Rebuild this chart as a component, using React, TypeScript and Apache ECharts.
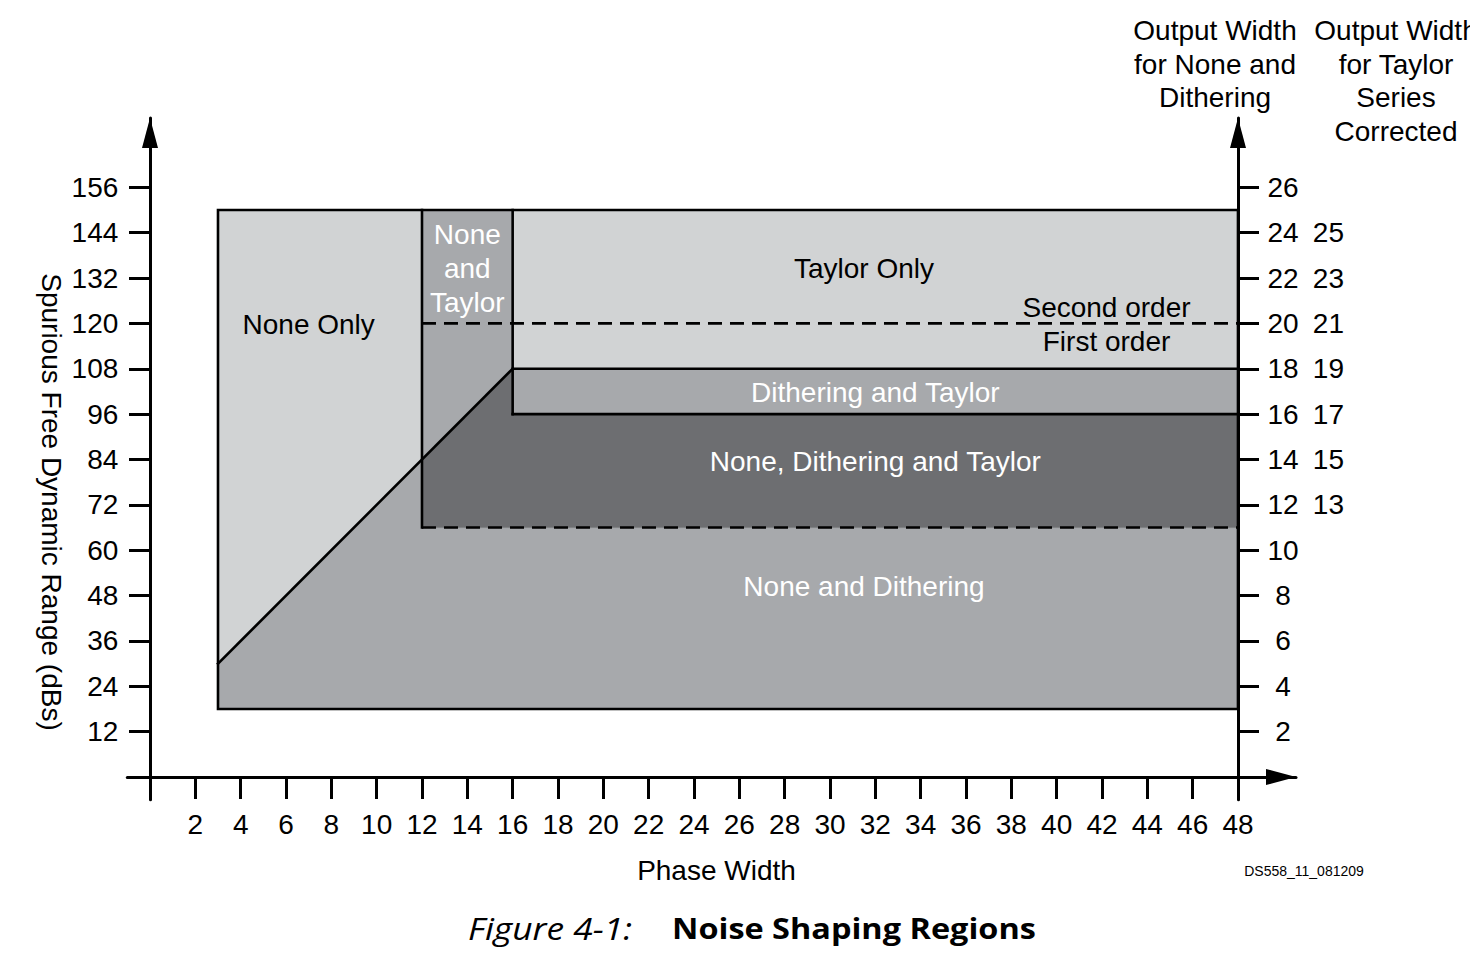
import React, { useEffect, useRef } from "react";
import * as echarts from "echarts";

// ---------- data ----------
const phaseWidthTicks = [2, 4, 6, 8, 10, 12, 14, 16, 18, 20, 22, 24, 26, 28, 30, 32, 34, 36, 38, 40, 42, 44, 46, 48];
const sfdrTicks = [12, 24, 36, 48, 60, 72, 84, 96, 108, 120, 132, 144, 156];
const outputWidthTicks = [2, 4, 6, 8, 10, 12, 14, 16, 18, 20, 22, 24, 26];
const taylorTickPositions = [12, 14, 16, 18, 20, 22, 24];
const taylorOutputWidths = [13, 15, 17, 19, 21, 23, 25];

const regionNames = [
  "None and Dithering",
  "None Only",
  "None and Taylor",
  "Taylor Only",
  "Dithering and Taylor",
  "None, Dithering and Taylor",
];
const noneAndDithering = [[3, 18], [48, 18], [48, 66], [12, 66], [12, 84], [3, 30]];
const noneOnly = [[3, 30], [3, 150], [12, 150], [12, 84]];
const noneAndTaylor = [[12, 84], [12, 150], [16, 150], [16, 108]];
const taylorOnly = [[16, 108], [16, 150], [48, 150], [48, 108]];
const ditheringAndTaylor = [[16, 96], [16, 108], [48, 108], [48, 96]];
const noneDitheringTaylor = [[12, 66], [12, 84], [16, 108], [16, 96], [48, 96], [48, 66]];
const regionPolygons = [noneAndDithering, noneOnly, noneAndTaylor, taylorOnly, ditheringAndTaylor, noneDitheringTaylor];

const solidBoundaries = [
  [[3, 18], [48, 18], [48, 150], [3, 150], [3, 18]],
  [[12, 66], [12, 150]],
  [[16, 96], [16, 150]],
  [[16, 108], [48, 108]],
  [[16, 96], [48, 96]],
  [[3, 30], [16, 108]],
];
const dashedBoundaries = [
  [[12, 120], [48, 120]],
  [[12, 66], [48, 66]],
];

const labelTexts = [
  "None Only",
  "None\nand\nTaylor",
  "Taylor Only",
  "Second order",
  "First order",
  "Dithering and Taylor",
  "None, Dithering and Taylor",
  "None and Dithering",
];
const labelAnchors = [
  [7, 119.6],
  [14, 134.4],
  [31.5, 134.4],
  [42.2, 124.2],
  [42.2, 115.2],
  [32, 101.6],
  [32, 83.6],
  [31.5, 50.5],
];

// ---------- styles ----------
const FONT = "'Liberation Sans', Arial, Helvetica, sans-serif";
const CAPTION_FONT = "'Open Sans', 'Noto Sans', sans-serif";
const LIGHT = "#d1d3d4";
const MEDIUM = "#a7a9ac";
const DARK = "#6d6e71";
const regionFills = [MEDIUM, LIGHT, MEDIUM, LIGHT, MEDIUM, DARK];
const labelColors = ["#000", "#fff", "#000", "#000", "#000", "#fff", "#fff", "#fff"];

export default function App() {
  const ref = useRef<HTMLDivElement>(null);

  useEffect(() => {
    if (!ref.current) return;
    const chart = echarts.init(ref.current, null, { renderer: "svg" });

    const axisLineStyle = { color: "#000", width: 3 };
    const sfdrMax = 174.34;
    const arrowSym = ["none", "triangle"];
    const arrowSize = [16, 30];

    const option: any = {
      animation: false,
      backgroundColor: "#fff",
      grid: [
        { left: 127.33, right: 174, top: 118, bottom: 163.3, outerBoundsMode: "none", containLabel: false },
        { left: 150, right: 232, top: 118, bottom: 163.3, outerBoundsMode: "none", containLabel: false },
      ],
      xAxis: [
        {
          gridIndex: 0,
          type: "value",
          min: -1,
          max: 50.56,
          position: "bottom",
          axisLine: { show: true, onZero: true, symbol: arrowSym, symbolSize: arrowSize, symbolOffset: [0, -15], lineStyle: axisLineStyle },
          axisTick: { show: true, customValues: phaseWidthTicks, length: 22, inside: false, lineStyle: axisLineStyle },
          axisLabel: {
            show: true,
            customValues: phaseWidthTicks,
            margin: 11,
            fontSize: 28,
            fontFamily: FONT,
            color: "#000",
          },
          splitLine: { show: false },
        },
        {
          gridIndex: 1,
          type: "value",
          min: 0,
          max: 48,
          show: false,
        },
      ],
      yAxis: [
        {
          gridIndex: 0,
          type: "value",
          min: -6,
          max: sfdrMax,
          position: "left",
          axisLine: { show: true, onZero: true, symbol: arrowSym, symbolSize: arrowSize, symbolOffset: [0, -15], lineStyle: axisLineStyle },
          axisTick: { show: true, customValues: sfdrTicks, length: 21, inside: false, lineStyle: axisLineStyle },
          axisLabel: {
            show: true,
            customValues: sfdrTicks,
            margin: 9,
            fontSize: 28,
            fontFamily: FONT,
            color: "#000",
          },
          splitLine: { show: false },
        },
        {
          gridIndex: 1,
          type: "value",
          min: -1,
          max: sfdrMax / 6,
          position: "right",
          axisLine: { show: true, onZero: false, symbol: arrowSym, symbolSize: arrowSize, symbolOffset: [0, -15], lineStyle: axisLineStyle },
          axisTick: { show: true, customValues: outputWidthTicks, length: 21, inside: false, lineStyle: axisLineStyle },
          axisLabel: {
            show: true,
            customValues: outputWidthTicks,
            margin: 30,
            fontSize: 28,
            fontFamily: FONT,
            color: "#000",
            formatter: (v: number) => {
              const idx = taylorTickPositions.indexOf(v);
              return idx >= 0 ? `{a|${v}}{b|${taylorOutputWidths[idx]}}` : `{a|${v}}`;
            },
            rich: {
              a: { width: 30, align: "center", fontSize: 28, fontFamily: FONT, color: "#000" },
              b: { width: 46, align: "right", fontSize: 28, fontFamily: FONT, color: "#000" },
            },
          },
          splitLine: { show: false },
        },
      ],
      series: [
        {
          type: "custom",
          name: "regions",
          xAxisIndex: 0,
          yAxisIndex: 0,
          z: 2,
          silent: true,
          clip: false,
          data: regionPolygons.map((p, i) => ({ value: p[0], name: regionNames[i] })),
          renderItem: (params: any, api: any) => {
            const poly = regionPolygons[params.dataIndex];
            return {
              type: "polygon",
              shape: { points: poly.map((pt) => api.coord(pt)) },
              style: { fill: regionFills[params.dataIndex], stroke: regionFills[params.dataIndex], lineWidth: 0.5 },
            };
          },
        },
        ...solidBoundaries.map((line, i) => ({
          type: "line",
          name: "solid" + i,
          xAxisIndex: 0,
          yAxisIndex: 0,
          z: 3,
          silent: true,
          symbol: "none",
          data: line,
          lineStyle: { color: "#000", width: 2.6, type: "solid", join: "miter", cap: "square" },
        })),
        ...dashedBoundaries.map((line, i) => ({
          type: "line",
          name: "dashed" + i,
          xAxisIndex: 0,
          yAxisIndex: 0,
          z: 3,
          silent: true,
          symbol: "none",
          data: line,
          lineStyle: { color: "#000", width: 2.6, type: [14, 8] },
        })),
        {
          type: "custom",
          name: "labels",
          xAxisIndex: 0,
          yAxisIndex: 0,
          z: 5,
          silent: true,
          clip: false,
          data: labelAnchors,
          renderItem: (params: any, api: any) => {
            const pt = api.coord([api.value(0), api.value(1)]);
            return {
              type: "text",
              x: pt[0],
              y: pt[1],
              style: {
                text: labelTexts[params.dataIndex],
                fill: labelColors[params.dataIndex],
                fontSize: 28,
                fontFamily: FONT,
                align: "center",
                verticalAlign: "middle",
                lineHeight: 34,
              },
            };
          },
        },
      ],
      graphic: [
        {
          type: "text",
          x: 51,
          y: 502,
          rotation: -Math.PI / 2,
          style: {
            text: "Spurious Free Dynamic Range (dBs)",
            fontSize: 28,
            fontFamily: FONT,
            fill: "#000",
            align: "center",
            verticalAlign: "middle",
          },
        },
        {
          type: "text",
          x: 716.5,
          y: 870,
          style: { text: "Phase Width", fontSize: 28, fontFamily: FONT, fill: "#000", align: "center", verticalAlign: "middle" },
        },
        {
          type: "text",
          x: 1215,
          y: 64,
          style: {
            text: "Output Width\nfor None and\nDithering",
            fontSize: 28,
            fontFamily: FONT,
            fill: "#000",
            align: "center",
            verticalAlign: "middle",
            lineHeight: 33.5,
          },
        },
        {
          type: "text",
          x: 1396,
          y: 81,
          style: {
            text: "Output Width\nfor Taylor\nSeries\nCorrected",
            fontSize: 28,
            fontFamily: FONT,
            fill: "#000",
            align: "center",
            verticalAlign: "middle",
            lineHeight: 33.5,
          },
        },
        {
          type: "text",
          x: 1304,
          y: 871,
          style: { text: "DS558_11_081209", fontSize: 14, fontFamily: FONT, fill: "#000", align: "center", verticalAlign: "middle" },
        },
        {
          type: "text",
          x: 468,
          y: 928,
          scaleX: 1.14,
          style: {
            text: "Figure 4-1:",
            fontSize: 31,
            fontStyle: "italic",
            fontFamily: CAPTION_FONT,
            fill: "#000",
            align: "left",
            verticalAlign: "middle",
          },
        },
        {
          type: "text",
          x: 672,
          y: 928,
          scaleX: 1.12,
          style: {
            text: "Noise Shaping Regions",
            fontSize: 29,
            fontWeight: "bold",
            fontFamily: CAPTION_FONT,
            fill: "#000",
            align: "left",
            verticalAlign: "middle",
          },
        },
      ],
    };

    chart.setOption(option);
    return () => chart.dispose();
  }, []);

  return (
    <div
      ref={ref}
      style={{ position: "absolute", left: 0, top: 0, width: 1470, height: 963, background: "#fff" }}
    />
  );
}
